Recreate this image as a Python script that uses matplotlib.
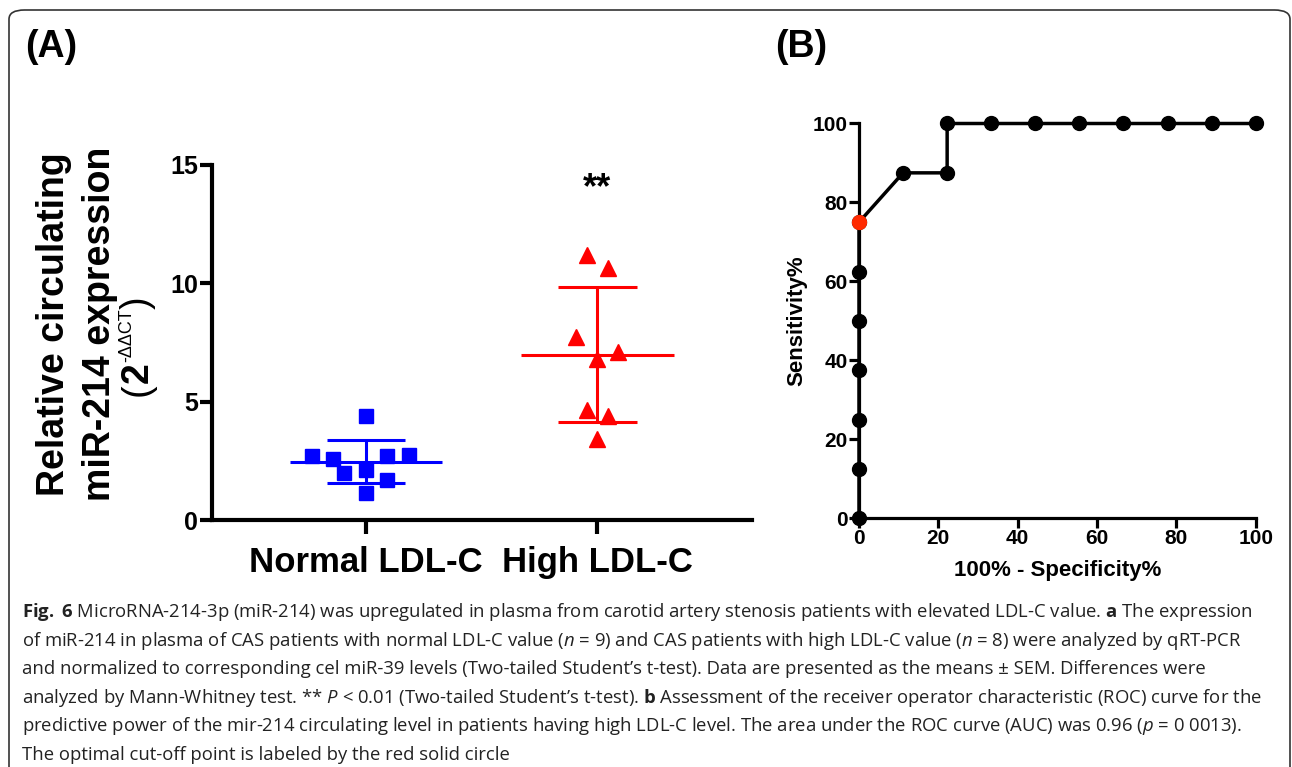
import numpy as np
import matplotlib
matplotlib.use("Agg")
import matplotlib.pyplot as plt
from matplotlib.patches import FancyBboxPatch

plt.rcParams['font.family'] = ['Liberation Sans', 'DejaVu Sans']
plt.rcParams['mathtext.fontset'] = 'custom'
plt.rcParams['mathtext.rm'] = 'Open Sans'
plt.rcParams['mathtext.it'] = 'Open Sans:italic'
plt.rcParams['mathtext.bf'] = 'Open Sans:bold'

# Panel A data: miR-214 expression (2^-ddCT)
groups = ['Normal LDL-C', 'High LDL-C']
normal_vals = [4.39, 2.70, 2.58, 2.00, 2.11, 2.70, 2.75, 1.69, 1.15]
normal_jitter = [0.0, -0.235, -0.141, -0.095, 0.0, 0.091, 0.184, 0.091, 0.0]
high_vals = [11.19, 10.63, 7.73, 7.10, 6.81, 4.63, 4.39, 3.42]
high_jitter = [-0.044, 0.046, -0.093, 0.09, 0.0, -0.044, 0.046, 0.0]

# Panel B data: ROC curve (n=9 normal, n=8 high)
fpr = [0, 0, 0, 0, 0, 0, 0, 11.11, 22.22, 22.22, 33.33, 44.44, 55.56, 66.67, 77.78, 88.89, 100]
tpr = [0, 12.5, 25, 37.5, 50, 62.5, 75, 87.5, 87.5, 100, 100, 100, 100, 100, 100, 100, 100]
cutoff = (0, 75)

caption = [
    r"$\mathbf{Fig.}$ $\mathbf{6}$ MicroRNA-214-3p (miR-214) was upregulated in plasma from carotid artery stenosis patients with elevated LDL-C value. $\mathbf{a}$ The expression",
    r"of miR-214 in plasma of CAS patients with normal LDL-C value ($\mathit{n}$ = 9) and CAS patients with high LDL-C value ($\mathit{n}$ = 8) were analyzed by qRT-PCR",
    "and normalized to corresponding cel miR-39 levels (Two-tailed Student\u2019s t-test). Data are presented as the means \u00b1 SEM. Differences were",
    r"analyzed by Mann-Whitney test. ** $\mathit{P}$ < 0.01 (Two-tailed Student" + "\u2019" + r"s t-test). $\mathbf{b}$ Assessment of the receiver operator characteristic (ROC) curve for the",
    r"predictive power of the mir-214 circulating level in patients having high LDL-C level. The area under the ROC curve (AUC) was 0.96 ($\mathit{p}$ = 0 0013).",
    "The optimal cut-off point is labeled by the red solid circle",
]

W, H = 1292, 767
fig = plt.figure(figsize=(W / 100, H / 100), dpi=100)

# rounded frame
frame = FancyBboxPatch((9 / W, -0.2), 1281 / W, 1.2 - 10 / H,
                       boxstyle="round,pad=0,rounding_size=0.012",
                       transform=fig.transFigure, fill=False,
                       edgecolor='#333333', linewidth=1.2)
fig.patches.append(frame)

# ---------- Panel A ----------
axA = fig.add_axes([211.7 / W, (H - 520) / H, 540 / W, 355 / H])
for key, vals, jit, col, mk in [(0, normal_vals, normal_jitter, '#0000ff', 's'),
                                (1, high_vals, high_jitter, '#ff0000', '^')]:
    v = np.array(vals)
    m = v.mean()
    sd = v.std(ddof=1)
    axA.hlines(m, key - 0.33, key + 0.33, color=col, lw=2.2, zorder=2)
    axA.hlines([m - sd, m + sd], key - 0.17, key + 0.17, color=col, lw=2.2, zorder=2)
    axA.vlines(key, m - sd, m + sd, color=col, lw=2.2, zorder=2)
    axA.plot(key + np.array(jit), v, linestyle='none', marker=mk,
             color=col, markersize=10 if mk == 's' else 11, zorder=3)

axA.set_xlim(-0.667, 1.667)
axA.set_ylim(0, 15)
axA.set_yticks([0, 5, 10, 15])
axA.set_xticks([0, 1])
axA.set_xticklabels(groups, fontsize=25, fontweight='bold')
for lab in axA.get_yticklabels():
    lab.set_fontsize(18)
    lab.set_fontweight('bold')
axA.spines['top'].set_visible(False)
axA.spines['right'].set_visible(False)
axA.spines['left'].set_linewidth(3)
axA.spines['bottom'].set_linewidth(3)
axA.tick_params(axis='y', length=9, width=3, pad=1)
axA.tick_params(axis='x', length=10, width=3, pad=9)
axA.text(1.0, 14.0, '**', ha='center', va='center', fontsize=26, fontweight='bold')

# y label of panel A, three rotated lines
ylab_fs = 27
fig.text(64 / W, 1 - 324 / H, 'Relative circulating', rotation=90, rotation_mode='anchor',
         ha='center', va='baseline', fontsize=ylab_fs, fontweight='bold')
fig.text(110 / W, 1 - 324 / H, 'miR-214 expression', rotation=90, rotation_mode='anchor',
         ha='center', va='baseline', fontsize=ylab_fs, fontweight='bold')

renderer = fig.canvas.get_renderer()
parts = [('(', ylab_fs, 'normal', 0), ('2', ylab_fs, 'bold', 0),
         ('-\u0394\u0394CT', 13, 'normal', 17), (')', ylab_fs, 'normal', 0)]
widths = []
for s, fs, fw, _ in parts:
    t = fig.text(0, 0, s, fontsize=fs, fontweight=fw)
    widths.append(t.get_window_extent(renderer).width)
    t.remove()
base3 = 148
ypos = (H - 346) - sum(widths) / 2
for (s, fs, fw, lift), w in zip(parts, widths):
    fig.text((base3 - lift) / W, ypos / H, s, rotation=90, rotation_mode='anchor',
             ha='left', va='baseline', fontsize=fs, fontweight=fw)
    ypos += w

fig.text(25 / W, 1 - 47 / H, '(A)', ha='left', va='center', fontsize=27, fontweight='bold')
fig.text(775 / W, 1 - 47 / H, '(B)', ha='left', va='center', fontsize=27, fontweight='bold')

# ---------- Panel B ----------
axB = fig.add_axes([859 / W, (H - 518.3) / H, 396.7 / W, 394.8 / H])
axB.plot(fpr, tpr, color='black', lw=2.5, marker='o', markersize=10, clip_on=False, zorder=3)
axB.plot([cutoff[0]], [cutoff[1]], linestyle='none', marker='o', color='#ff2a00',
         markersize=10, clip_on=False, zorder=4)
axB.set_xlim(0, 100)
axB.set_ylim(0, 100)
axB.set_xticks(range(0, 101, 20))
axB.set_yticks(range(0, 101, 20))
for lab in axB.get_xticklabels() + axB.get_yticklabels():
    lab.set_fontsize(15)
    lab.set_fontweight('bold')
axB.spines['top'].set_visible(False)
axB.spines['right'].set_visible(False)
axB.spines['left'].set_linewidth(2.3)
axB.spines['bottom'].set_linewidth(2.3)
axB.tick_params(length=7, width=2.3, pad=1)
axB.set_xlabel('100% - Specificity%', fontsize=16, fontweight='bold', labelpad=8)
axB.set_ylabel('Sensitivity%', fontsize=16, fontweight='bold', labelpad=4)

# ---------- caption ----------
for i, line in enumerate(caption):
    fig.text(22 / W, 1 - (612 + i * 28.6) / H, line, ha='left', va='center',
             fontsize=13.3, family=['Open Sans', 'DejaVu Sans'], color='#222222')

fig.savefig('out.png', dpi=100)
